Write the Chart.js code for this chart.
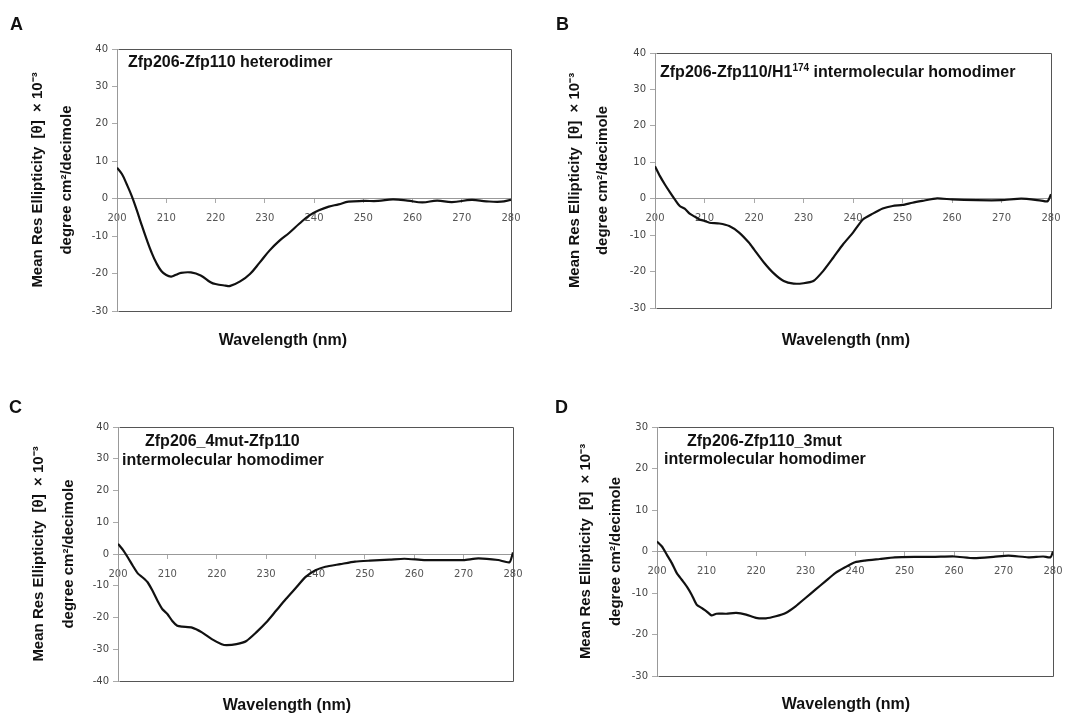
<!DOCTYPE html>
<html>
<head>
<meta charset="utf-8">
<script src="https://cdn.jsdelivr.net/npm/chart.js@4.4.1/dist/chart.umd.min.js"></script>
<style>
  body { margin: 0; background: #fff; width: 1070px; height: 715px; position: relative; overflow: hidden; font-family: "Liberation Sans", Arial, sans-serif; color: #111; }
  canvas { position: absolute; }
  .lbl { position: absolute; font-weight: bold; white-space: nowrap; line-height: 1; }
  .letter { font-size: 18px; }
  .inner { font-size: 16px; }
  .xt { font-size: 16px; transform: translate(-50%, -50%); }
  sup { font-size: 10px; vertical-align: 6px; line-height: 0; }
</style>
</head>
<body>
<canvas id="chartA" width="535" height="357" style="left:0;top:0"></canvas>
<canvas id="chartB" width="530" height="357" style="left:540px;top:0"></canvas>
<canvas id="chartC" width="535" height="355" style="left:0;top:360px"></canvas>
<canvas id="chartD" width="530" height="355" style="left:540px;top:360px"></canvas>

<div class="lbl letter" style="left:10px;top:15px">A</div>
<div class="lbl letter" style="left:556px;top:15px">B</div>
<div class="lbl letter" style="left:9px;top:398px">C</div>
<div class="lbl letter" style="left:555px;top:398px">D</div>

<div class="lbl inner" style="left:128px;top:54px">Zfp206-Zfp110 heterodimer</div>
<div class="lbl inner" style="left:660px;top:64px">Zfp206-Zfp110/H1<sup>174</sup> intermolecular homodimer</div>
<div class="lbl inner" style="left:145px;top:433px">Zfp206_4mut-Zfp110</div>
<div class="lbl inner" style="left:122px;top:452px">intermolecular homodimer</div>
<div class="lbl inner" style="left:687px;top:433px">Zfp206-Zfp110_3mut</div>
<div class="lbl inner" style="left:664px;top:451px">intermolecular homodimer</div>

<div class="lbl xt" style="left:283px;top:340px">Wavelength (nm)</div>
<div class="lbl xt" style="left:846px;top:340px">Wavelength (nm)</div>
<div class="lbl xt" style="left:287px;top:705px">Wavelength (nm)</div>
<div class="lbl xt" style="left:846px;top:704px">Wavelength (nm)</div>

<script>
// wavelength ticks shared by all panels
const waveTicks = [200, 210, 220, 230, 240, 250, 260, 270, 280]
const yTitle = ["Mean Res Ellipticity  [θ]  × 10⁻³", "degree cm²/decimole"]

// A: Zfp206-Zfp110 heterodimer
const waveA = [200, 201, 202, 203, 204, 205, 206, 207, 208, 209, 210, 211, 212, 213, 215, 217, 219, 220, 222, 223, 225, 227, 229, 231, 233, 235, 237, 239, 241, 243, 245, 247, 250, 253, 256, 259, 262, 265, 268, 272, 275, 278, 280]
const ellipA = [8.3, 6.6, 3.8, 0.7, -3.0, -7.0, -10.8, -14.3, -17.2, -19.3, -20.4, -20.8, -20.3, -19.8, -19.7, -20.5, -22.3, -22.8, -23.2, -23.3, -22.1, -20.1, -17.0, -13.8, -11.2, -9.1, -6.7, -4.5, -3.1, -2.1, -1.5, -0.8, -0.6, -0.6, -0.2, -0.5, -1.0, -0.5, -0.9, -0.3, -0.7, -0.8, -0.3]

// B: Zfp206-Zfp110/H1-174 intermolecular homodimer
const waveB = [200, 201, 202, 203, 204, 205, 206, 207, 208, 209, 210, 211, 213, 215, 217, 219, 220, 222, 224, 226, 228, 230, 232, 234, 236, 238, 240, 242, 244, 246, 248, 250, 252, 254, 257, 260, 265, 270, 274, 278, 279.3, 280]
const ellipB = [8.9, 6.2, 3.9, 1.8, -0.2, -2.0, -2.7, -4.1, -4.9, -5.7, -6.1, -6.6, -6.8, -7.5, -9.3, -12.1, -13.9, -17.5, -20.5, -22.6, -23.3, -23.2, -22.6, -19.8, -16.2, -12.5, -9.3, -5.7, -4.1, -2.7, -2.0, -1.7, -1.1, -0.6, 0.1, -0.2, -0.4, -0.4, 0, -0.5, -0.7, 1.2]

// C: Zfp206_4mut-Zfp110 intermolecular homodimer
const waveC = [200, 201, 202, 203, 204, 205, 206, 207, 208, 209, 210, 211, 212, 213, 215, 217, 219, 221, 222, 224, 226, 228, 230, 232, 234, 236, 238, 240, 242, 245, 248, 251, 255, 258, 262, 266, 270, 273, 277, 279.3, 280]
const ellipC = [3.2, 1.3, -1.1, -3.7, -6.1, -7.4, -8.9, -11.6, -14.7, -17.4, -18.9, -21.1, -22.6, -22.9, -23.2, -24.7, -26.8, -28.4, -28.7, -28.4, -27.4, -24.7, -21.6, -17.9, -14.2, -10.7, -7.2, -5.1, -4.0, -3.2, -2.4, -2.1, -1.8, -1.5, -1.9, -1.9, -1.9, -1.4, -1.9, -2.6, 0.5]

// D: Zfp206-Zfp110_3mut intermolecular homodimer
const waveD = [200, 201, 202, 203, 204, 205, 206, 207, 208, 209, 210, 211, 212, 214, 216, 218, 220, 222, 224, 226, 228, 230, 232, 234, 236, 238, 240, 242, 245, 248, 252, 256, 260, 264, 268, 271, 275, 278, 279.5, 280]
const ellipD = [2.4, 1.2, -0.8, -2.8, -5.2, -6.8, -8.4, -10.4, -12.8, -13.6, -14.4, -15.4, -15.0, -15.0, -14.8, -15.2, -16.0, -16.1, -15.6, -14.8, -13.2, -11.2, -9.2, -7.2, -5.2, -3.8, -2.6, -2.2, -1.8, -1.4, -1.3, -1.3, -1.2, -1.6, -1.3, -1.0, -1.4, -1.2, -1.4, 0]

// dark border on the top, right and bottom of the plot area (left side is the y axis)
const framePlugin = {
  id: "frame",
  beforeDatasetsDraw(chart) {
    const { ctx, chartArea: a } = chart
    const l = Math.round(a.left) + 0.5
    const t = Math.round(a.top) + 0.5
    const r = Math.round(a.right) + 0.5
    const b = Math.round(a.bottom) + 0.5
    ctx.save()
    ctx.strokeStyle = "#555"
    ctx.lineWidth = 1
    ctx.beginPath()
    ctx.moveTo(l + 1, t)
    ctx.lineTo(r, t)
    ctx.lineTo(r, b)
    ctx.lineTo(l + 1, b)
    ctx.stroke()
    ctx.restore()
  },
}

function makePanel(id, waves, values, yMin, yMax, box) {
  const ctx = document.getElementById(id).getContext("2d")
  return new Chart(ctx, {
    type: "line",
    data: {
      datasets: [
        {
          data: waves.map((w, i) => ({ x: w, y: values[i] })),
          borderColor: "#111",
          borderWidth: 2.2,
          pointRadius: 0,
          tension: box.tension,
          fill: false,
        },
      ],
    },
    options: {
      responsive: false,
      animation: false,
      devicePixelRatio: 1,
      layout: { padding: { top: box.top, right: box.right, bottom: box.bottom, left: 0 } },
      plugins: { legend: { display: false }, tooltip: { enabled: false } },
      scales: {
        x: {
          type: "linear",
          position: { y: 0 },
          min: 200,
          max: 280,
          afterBuildTicks: (s) => { s.ticks = waveTicks.map((v) => ({ value: v })) },
          // the end labels may hang past the frame, as in the original
          afterFit: (s) => { s.paddingLeft = 0; s.paddingRight = 0 },
          grid: { drawOnChartArea: false, tickLength: 4, color: "#aaa" },
          border: { color: "#999" },
          ticks: { color: "#555", padding: 10, maxRotation: 0, font: { family: "DejaVu Sans", size: 10 } },
        },
        y: {
          position: "left",
          min: yMin,
          max: yMax,
          afterFit: (s) => { s.width = box.yw },
          grid: { drawOnChartArea: false, tickLength: 5, color: "#aaa" },
          border: { color: "#999" },
          ticks: { stepSize: 10, color: "#444", padding: 4, font: { family: "DejaVu Sans", size: 10 } },
          title: {
            display: true,
            text: yTitle,
            color: "#111",
            padding: { top: box.titleX - 14.5, bottom: 0 },
            font: { family: "Liberation Sans", size: 15, weight: "bold", lineHeight: box.titleGap / 15 },
          },
        },
      },
    },
    plugins: [framePlugin],
  })
}

makePanel("chartA", waveA, ellipA, -30, 40, { top: 49, right: 24, bottom: 46, yw: 117, titleX: 38, titleGap: 29, tension: 0.4 })
makePanel("chartB", waveB, ellipB, -30, 40, { top: 53, right: 19, bottom: 49, yw: 115, titleX: 35, titleGap: 28, tension: 0.2 })
makePanel("chartC", waveC, ellipC, -40, 40, { top: 67, right: 22, bottom: 34, yw: 118, titleX: 38, titleGap: 30, tension: 0.2 })
makePanel("chartD", waveD, ellipD, -30, 30, { top: 67, right: 17, bottom: 39, yw: 117, titleX: 45, titleGap: 30, tension: 0.2 })
</script>
</body>
</html>
